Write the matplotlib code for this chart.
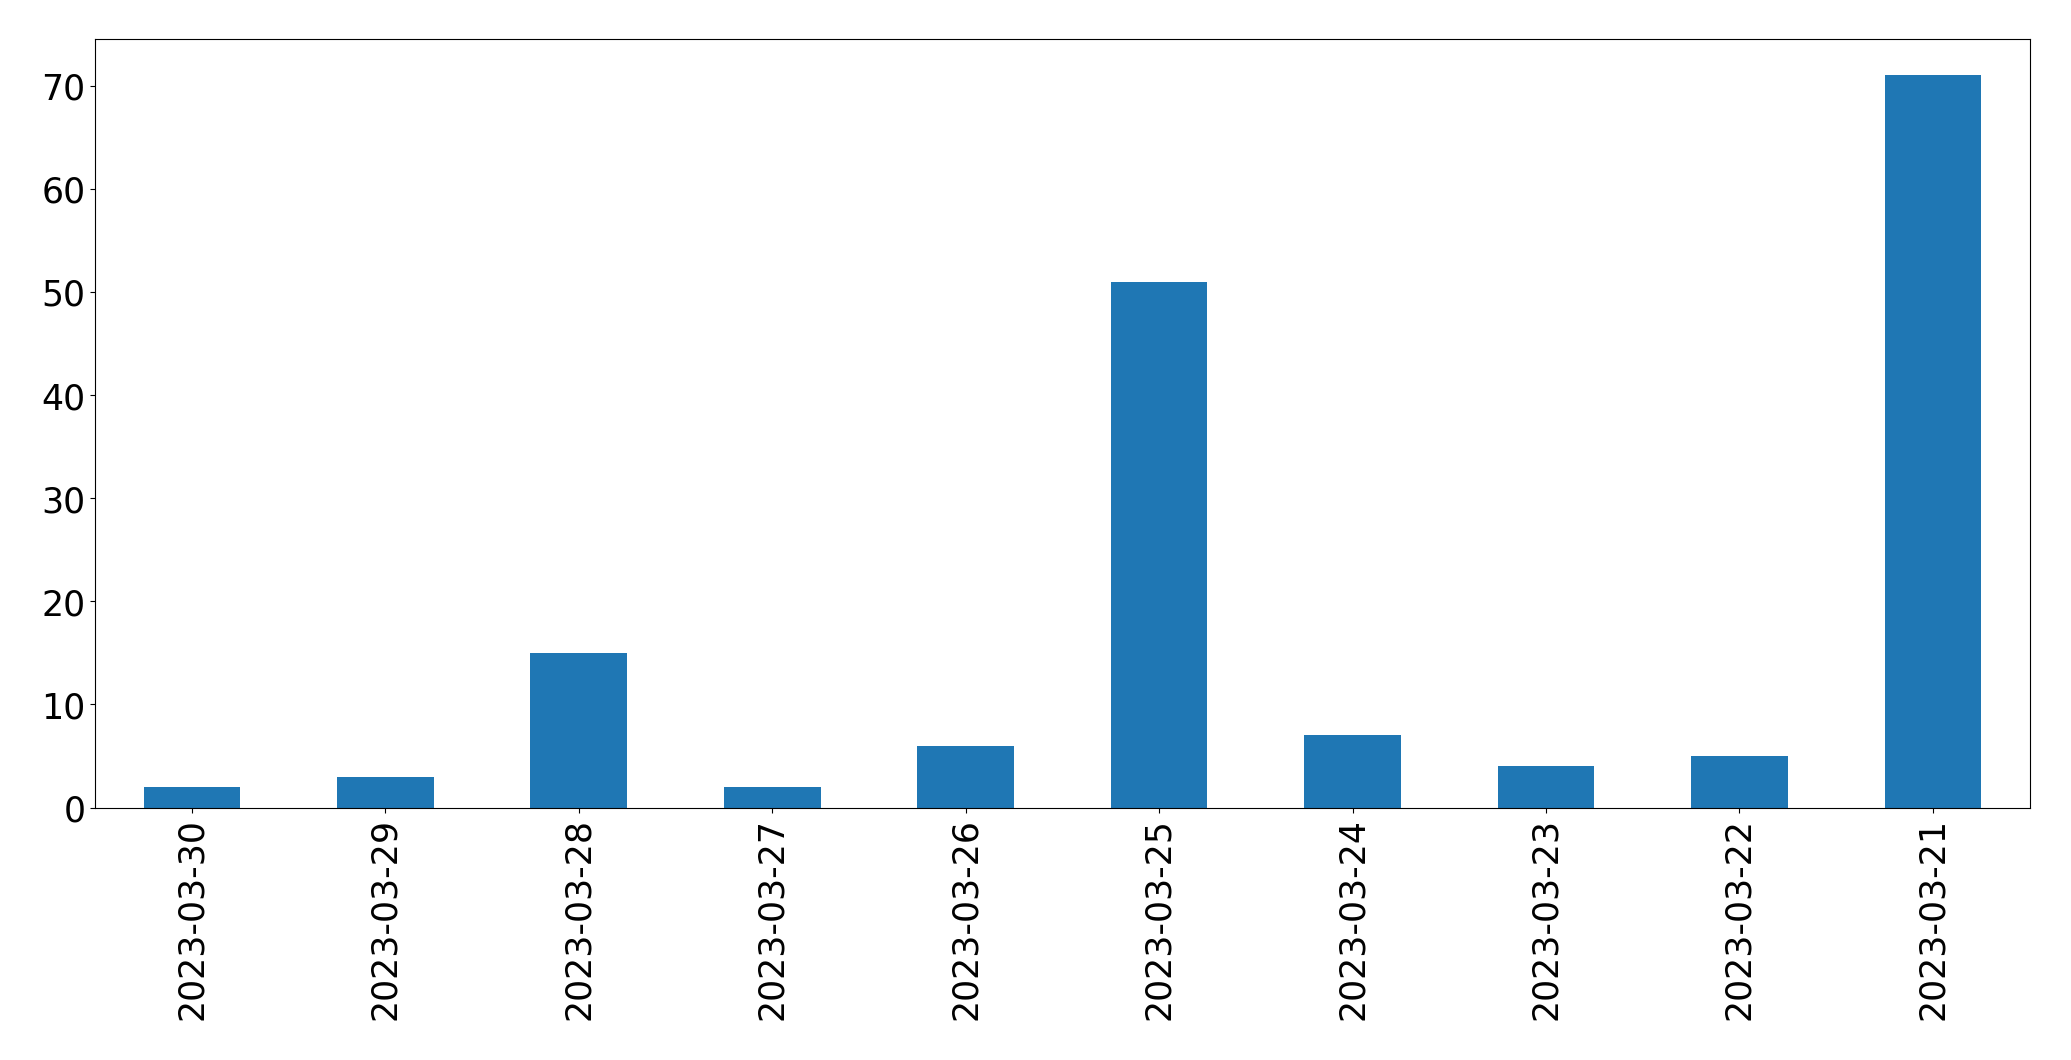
import pandas as pd
import matplotlib
matplotlib.use('Agg')
import matplotlib.pyplot as plt

# Daily counts, newest first
dates = ['2023-03-30', '2023-03-29', '2023-03-28', '2023-03-27', '2023-03-26',
         '2023-03-25', '2023-03-24', '2023-03-23', '2023-03-22', '2023-03-21']
counts = [2, 3, 15, 2, 6, 51, 7, 4, 5, 71]

series = pd.Series(counts, index=dates)

fig, ax = plt.subplots(figsize=(20.71, 10.605), dpi=100)
series.plot(kind='bar', ax=ax, color='#1f77b4', fontsize=25)
ax.set_xlabel('')
plt.subplots_adjust(left=0.046, right=0.980, top=0.963, bottom=0.238)
plt.savefig('out.png', dpi=100)
plt.close()
